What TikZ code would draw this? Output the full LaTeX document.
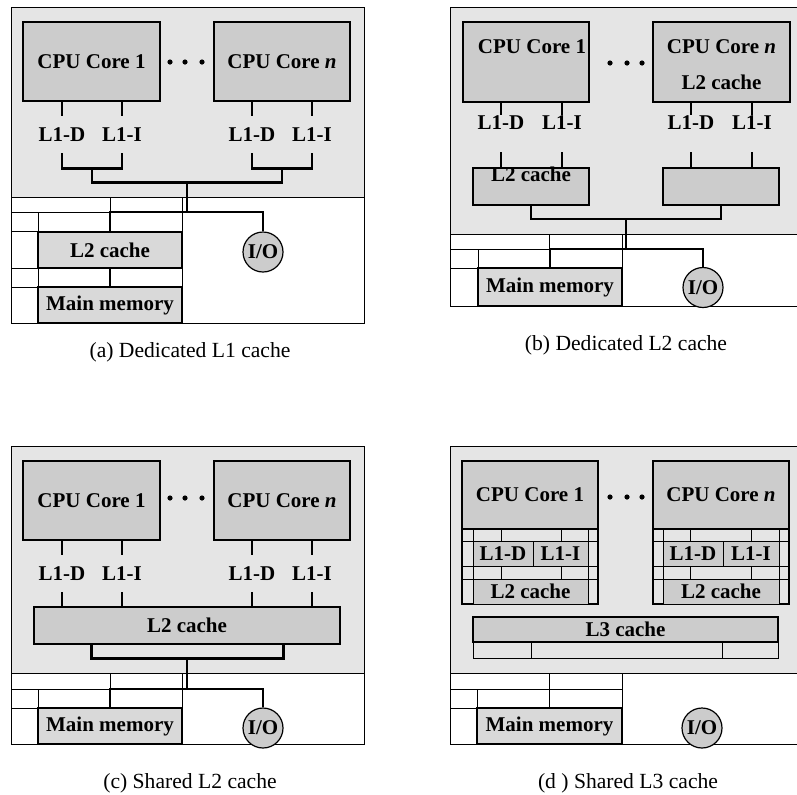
\documentclass[tikz,border=0pt]{standalone}
\usepackage{fontspec}
\setmainfont{Liberation Serif}
\usepackage{tikz}
\usetikzlibrary{positioning,calc}
\definecolor{panelgray}{gray}{0.90}
\definecolor{coregray}{gray}{0.80}
\definecolor{memgray}{gray}{0.85}

\begin{document}
\begin{tikzpicture}[
  x=0.5pt, y=-0.5pt,
  every node/.style={font=\fontsize{10.5}{12}\selectfont\bfseries},
  unit/.style={draw, line width=0.6pt, inner sep=0pt, fill=coregray},
  core/.style={unit, minimum width=68.5pt, minimum height=39.5pt},
  mem/.style={unit, fill=memgray, minimum width=72pt, minimum height=18pt},
  tile/.style={draw, line width=0.6pt, inner sep=0pt, minimum width=68pt, minimum height=71.5pt},
  cell/.style={draw, line width=0.5pt, inner sep=0pt, fill=coregray, minimum height=12.5pt},
  io/.style={circle, draw, line width=0.6pt, fill=coregray, minimum size=20pt, inner sep=0pt},
  lvl/.style={inner sep=0pt, minimum height=18.5pt},
  tag/.style={inner sep=0.5pt},
  wire/.style={line width=1.45pt},
  cellline/.style={line width=0.5pt},
  caption/.style={font=\fontsize{10.8}{12}\selectfont},
]
\useasboundingbox (0,0) rectangle (797,794);

% (a) dedicated L1 cache
\fill[panelgray] (11,7) rectangle (364,197);
\draw[cellline] (11,7) rectangle (364,323) (11,197) -- (364,197);
\draw[cellline] (11,212) -- (182,212) (11,231) -- (182,231) (11,268) -- (182,268) (11,287) -- (182,287)
  (38,212) -- (38,323) (110,197) -- (110,212) (182,197) -- (182,323);
\node[core] (c1a) at (91.5,61.5) {CPU Core 1};
\node[core, minimum width=68pt] (cna) at (282,61.5) {CPU Core \textit{n}};
\foreach \x in {170,185,202} \fill (\x,62) circle[radius=1.3pt];
\node[lvl] (d1a) at (62,134.5) {L1-D};
\node[lvl] (i1a) at (122,134.5) {L1-I};
\node[lvl] (dna) at (252,134.5) {L1-D};
\node[lvl] (ina) at (312,134.5) {L1-I};
\node[mem] (l2a) at (110,250) {L2 cache};
\node[mem] (mma) at (110,305) {Main memory};
\node[io] (ioa) at (263,252) {I/O};
\coordinate (huba) at (187,212);
\foreach \n in {d1a,i1a} \draw[wire] (c1a.south -| \n) -- (\n.north);
\foreach \n in {dna,ina} \draw[wire] (cna.south -| \n) -- (\n.north);
\draw[wire] (d1a.south) -- ++(0,15) -| (i1a.south);
\draw[wire] (dna.south) -- ++(0,15) -| (ina.south);
\draw[wire] ($(d1a.south)!.5!(i1a.south)+(0,15)$) -- ++(0,14) -| ($(dna.south)!.5!(ina.south)+(0,15)$);
\draw[wire] (huba) -- ++(0,-30);
\draw[wire] (l2a) |- (huba) -| (ioa);
\draw[wire] (l2a) -- (mma);
\node[caption] (capa) at (190,352) {(a) Dedicated L1 cache};

% (b) dedicated L2 cache
\fill[panelgray] (450,7) rectangle (800,234);
\draw[cellline] (450,7) rectangle (800,306) (450,234) -- (800,234);
\draw[cellline] (450,249) -- (622,249) (450,268) -- (622,268)
  (478,249) -- (478,306) (549,234) -- (549,249) (622,234) -- (622,306);
\node[core, minimum width=63pt, minimum height=40pt] (c1b) at (526,62) {};
\node[core, minimum height=40pt] (cnb) at (721.5,62) {};
\node (t1b) at ([xshift=3pt,yshift=-12.5pt]c1b.north) {CPU Core 1};
\node (tnb) at ([yshift=-12.5pt]cnb.north) {CPU Core \textit{n}};
\node (unb) at ([yshift=-30.5pt]cnb.north) {L2 cache};
\foreach \x in {610,627,642} \fill (\x,63) circle[radius=1.3pt];
\node[tag] (d1b) at (501,123) {L1-D};
\node[tag] (i1b) at (562,123) {L1-I};
\node[tag] (dnb) at (691,123) {L1-D};
\node[tag] (inb) at (752,123) {L1-I};
\node[unit, minimum width=58pt, minimum height=18.5pt] (l2b1) at (531,186.5) {};
\node[unit, minimum width=58pt, minimum height=18.5pt] (l2b2) at (721,186.5) {};
\node (u1b) at ([yshift=-3.5pt]l2b1.north) {L2 cache};
\node[mem, minimum height=19pt] (mmb) at (550,287) {Main memory};
\node[io] (iob) at (703,287.5) {I/O};
\coordinate (hubb) at (626,219);
\coordinate (busb) at (626,249);
\foreach \n in {d1b,i1b} \draw[wire] (c1b.south -| \n) -- (\n.north);
\foreach \n in {dnb,inb} \draw[wire] (cnb.south -| \n) -- (\n.north);
\foreach \n in {d1b,i1b} \draw[wire] (l2b1.north -| \n) -- ++(0,-15);
\foreach \n in {dnb,inb} \draw[wire] (l2b2.north -| \n) -- ++(0,-15);
\draw[wire] (l2b1) |- (hubb) -| (l2b2);
\draw[wire] (hubb) -- (busb);
\draw[wire] (mmb) |- (busb) -| (iob);
\node[caption] (capb) at (626,345) {(b) Dedicated L2 cache};

% (c) shared L2 cache
\fill[panelgray] (11,446) rectangle (364,673);
\draw[cellline] (11,446) rectangle (364,744) (11,673) -- (364,673);
\draw[cellline] (11,689) -- (182,689) (11,708) -- (182,708)
  (38,689) -- (38,744) (110,673) -- (110,689) (182,673) -- (182,744);
\node[core] (c1c) at (91.5,500.5) {CPU Core 1};
\node[core, minimum width=68pt] (cnc) at (282,500.5) {CPU Core \textit{n}};
\foreach \x in {170,185,202} \fill (\x,498) circle[radius=1.3pt];
\node[lvl] (d1c) at (62,573.5) {L1-D};
\node[lvl] (i1c) at (122,573.5) {L1-I};
\node[lvl] (dnc) at (252,573.5) {L1-D};
\node[lvl] (inc) at (312,573.5) {L1-I};
\node[unit, minimum width=153pt, minimum height=18.5pt] (l2c) at (187,625.5) {L2 cache};
\node[mem] (mmc) at (110,726) {Main memory};
\node[io] (ioc) at (263,728) {I/O};
\coordinate (hubc) at (187,689);
\foreach \n in {d1c,i1c} \draw[wire] (c1c.south -| \n) -- (\n.north);
\foreach \n in {dnc,inc} \draw[wire] (cnc.south -| \n) -- (\n.north);
\foreach \n in {d1c,i1c,dnc,inc} \draw[wire] (\n.south) -- (\n.south |- l2c.north);
\draw[wire] ([xshift=29pt]l2c.south west) -- ++(0,14) -| ([xshift=-28.5pt]l2c.south east);
\draw[wire] ([yshift=-7pt]l2c.south) -- (hubc);
\draw[wire] (mmc) |- (hubc) -| (ioc);
\node[caption] (capc) at (190,783) {(c) Shared L2 cache};

% (d) shared L3 cache
\fill[panelgray] (450,446) rectangle (800,673);
\draw[cellline] (450,446) rectangle (800,744) (450,673) -- (800,673);
\draw[cellline] (450,689) -- (622,689) (450,708) -- (622,708)
  (477,689) -- (477,744) (549,673) -- (549,708) (622,673) -- (622,744);
\node[tile] (k1d) at (530,532.5) {};
\node[unit, minimum width=68pt, minimum height=34pt] (c1d) at (530,495) {CPU Core 1};
\draw[cellline] (462,541) -- (598,541) (462,566) -- (598,566) (462,579) -- (598,579)
  (473,529) -- (473,604) (588,529) -- (588,604)
  (501,529) -- (501,541) (561,529) -- (561,541) (501,566) -- (501,579) (561,566) -- (561,579);
\node[cell, minimum width=30pt] (d1d) at (503,553.5) {L1-D};
\node[cell, minimum width=27.5pt] (i1d) at (560.5,553.5) {L1-I};
\node[cell, minimum width=57.5pt] (u1d) at (530.5,591.5) {L2 cache};
\node[tile] (knd) at (721,532.5) {};
\node[unit, minimum width=68pt, minimum height=34pt] (cnd) at (721,495) {CPU Core \textit{n}};
\draw[cellline] (653,541) -- (789,541) (653,566) -- (789,566) (653,579) -- (789,579)
  (663,529) -- (663,604) (779,529) -- (779,604)
  (690,529) -- (690,541) (751,529) -- (751,541) (690,566) -- (690,579) (751,566) -- (751,579);
\node[cell, minimum width=30pt] (dnd) at (693,553.5) {L1-D};
\node[cell, minimum width=28pt] (ind) at (751,553.5) {L1-I};
\node[cell, minimum width=58pt] (und) at (721,591.5) {L2 cache};
\foreach \x in {610,627,642} \fill (\x,497) circle[radius=1.3pt];
\node[unit, minimum width=152.5pt, minimum height=12.5pt] (l3d) at (625.5,629.5) {L3 cache};
\draw[cellline] (473,642) rectangle (778,658) (531,642) -- (531,658) (722,642) -- (722,658);
\node[mem, minimum width=72.5pt] (mmd) at (549.5,726) {Main memory};
\node[io] (iod) at (702,728) {I/O};
\node[caption] (capd) at (628,783) {(d ) Shared L3 cache};
\end{tikzpicture}
\end{document}
